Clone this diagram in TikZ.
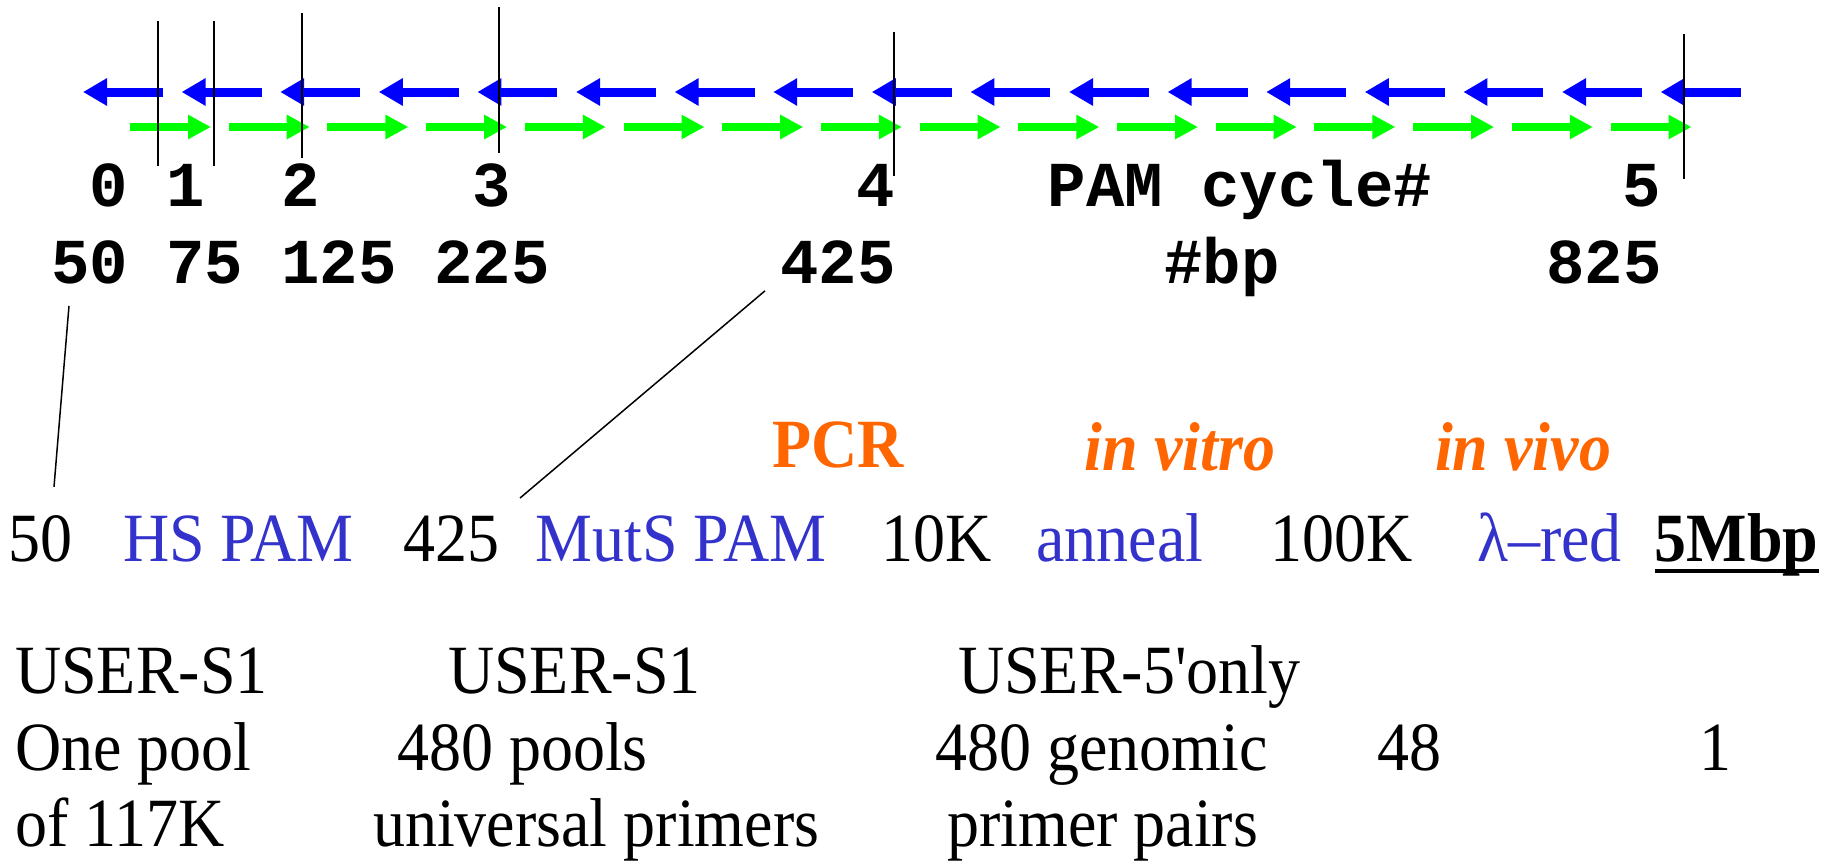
\documentclass[tikz,border=0pt]{standalone}
\usepackage{fontspec}
\setmonofont{Liberation Mono}
\newfontfamily\tnr{Liberation Serif}[FakeStretch=0.926]
\usetikzlibrary{arrows.meta}
\definecolor{arrblue}{RGB}{0,0,255}
\definecolor{arrgreen}{RGB}{0,255,0}
\definecolor{txtblue}{RGB}{51,51,204}
\definecolor{txtorange}{RGB}{255,102,0}
\begin{document}
\begin{tikzpicture}[x=1pt,y=-1pt,
  mono/.style={font=\fontsize{64}{70}\selectfont\ttfamily\bfseries, inner sep=0pt, anchor=base},
  serif/.style={font=\fontsize{69.1}{75}\selectfont\tnr, inner sep=0pt, anchor=base},
  lefttext/.style={serif, anchor=base west},
  bluetext/.style={serif, text=txtblue},
  orangebold/.style={serif, text=txtorange, font=\fontsize{69.1}{75}\selectfont\tnr\bfseries},
  orangeital/.style={serif, text=txtorange, font=\fontsize{69.1}{75}\selectfont\tnr\bfseries\itshape},
  boldserif/.style={serif, font=\fontsize{69.1}{75}\selectfont\tnr\bfseries},
  bluearrow/.style={draw=arrblue, line width=9pt, -{Triangle[length=24pt,width=26pt]}},
  greenarrow/.style={draw=arrgreen, line width=8pt, -{Triangle[length=23pt,width=23pt]}},
  tickline/.style={draw=black, line width=1.8pt},
  leader/.style={draw=black, line width=1.5pt}
]
\useasboundingbox (0,0) rectangle (1835,860);
\fill[white] (0,0) rectangle (1835,860);

% strand arrows
\foreach \k in {0,...,16}
  \draw[bluearrow] ({163+98.6*\k},92) -- ({83+98.6*\k},92);
\foreach \k in {0,...,15}
  \draw[greenarrow] ({130+98.7*\k},127) -- ({211+98.7*\k},127);

% cycle boundary ticks
\draw[tickline] (158,21) -- (158,166);
\draw[tickline] (214,21) -- (214,166);
\draw[tickline] (302,13) -- (302,158);
\draw[tickline] (499,7) -- (499,153);
\draw[tickline] (894,32) -- (894,176);
\draw[tickline] (1684,34) -- (1684,179);

% cycle numbers
\node[mono] (c0) at (109,206) {0};
\node[mono] (c1) at (186,206) {1};
\node[mono] (c2) at (301,206) {2};
\node[mono] (c3) at (492,206) {3};
\node[mono] (c4) at (876,206) {4};
\node[mono] (pam) at (1240,206) {PAM cycle\#};
\node[mono] (c5) at (1642,206) {5};

% bp numbers
\node[mono] (t50) at (90,283) {50};
\node[mono] (t75) at (205,283) {75};
\node[mono] (t125) at (339,283) {125};
\node[mono] (t225) at (492,283) {225};
\node[mono] (t425) at (838,283) {425};
\node[mono] (bp) at (1222,283) {\#bp};
\node[mono] (t825) at (1604,283) {825};

% orange method labels
\node[orangebold] (pcr) at (838,467) {PCR};
\node[orangeital] (vitro) at (1180,470) {in vitro};
\node[orangeital] (vivo) at (1523,470) {in vivo};

% scale row
\node[serif] (m50) at (40.5,561) {50};
\node[bluetext] (hs) at (238.5,561) {HS PAM};
\node[serif] (m425) at (451.5,561) {425};
\node[bluetext] (muts) at (681,561) {MutS PAM};
\node[serif] (k10) at (936.5,561) {10K};
\node[bluetext] (anneal) at (1120,561) {anneal};
\node[serif] (k100) at (1342,561) {100K};
\node[bluetext] (lred) at (1549.5,561) {λ–red};
\node[boldserif] (m5) at (1736.5,561) {5Mbp};
\draw[line width=4pt] ([yshift=-9.5pt]m5.base west) -- ([yshift=-9.5pt]m5.base east);

% leader lines
\draw[leader] ([xshift=-21pt,yshift=-22pt]t50.south) -- ([xshift=13.5pt,yshift=28pt]m50.north);
\draw[leader] ([xshift=-73pt,yshift=-7pt]t425.south) -- ([xshift=68.5pt,yshift=17pt]m425.north);

% bottom rows
\node[lefttext] (a1) at (15,693) {USER-S1};
\node[lefttext] (a2) at (15,770) {One pool};
\node[lefttext] (a3) at (15,846) {of 117K};
\node[lefttext] (b1) at (448,693) {USER-S1};
\node[lefttext] (b2) at (397,770) {480 pools};
\node[lefttext] (b3) at (373,846) {universal primers};
\node[lefttext] (d1) at (958,693) {USER-5'only};
\node[lefttext] (d2) at (935,770) {480 genomic};
\node[lefttext] (d3) at (947,846) {primer pairs};
\node[serif] (e2) at (1409,770) {48};
\node[serif] (f2) at (1715,770) {1};
\end{tikzpicture}
\end{document}
